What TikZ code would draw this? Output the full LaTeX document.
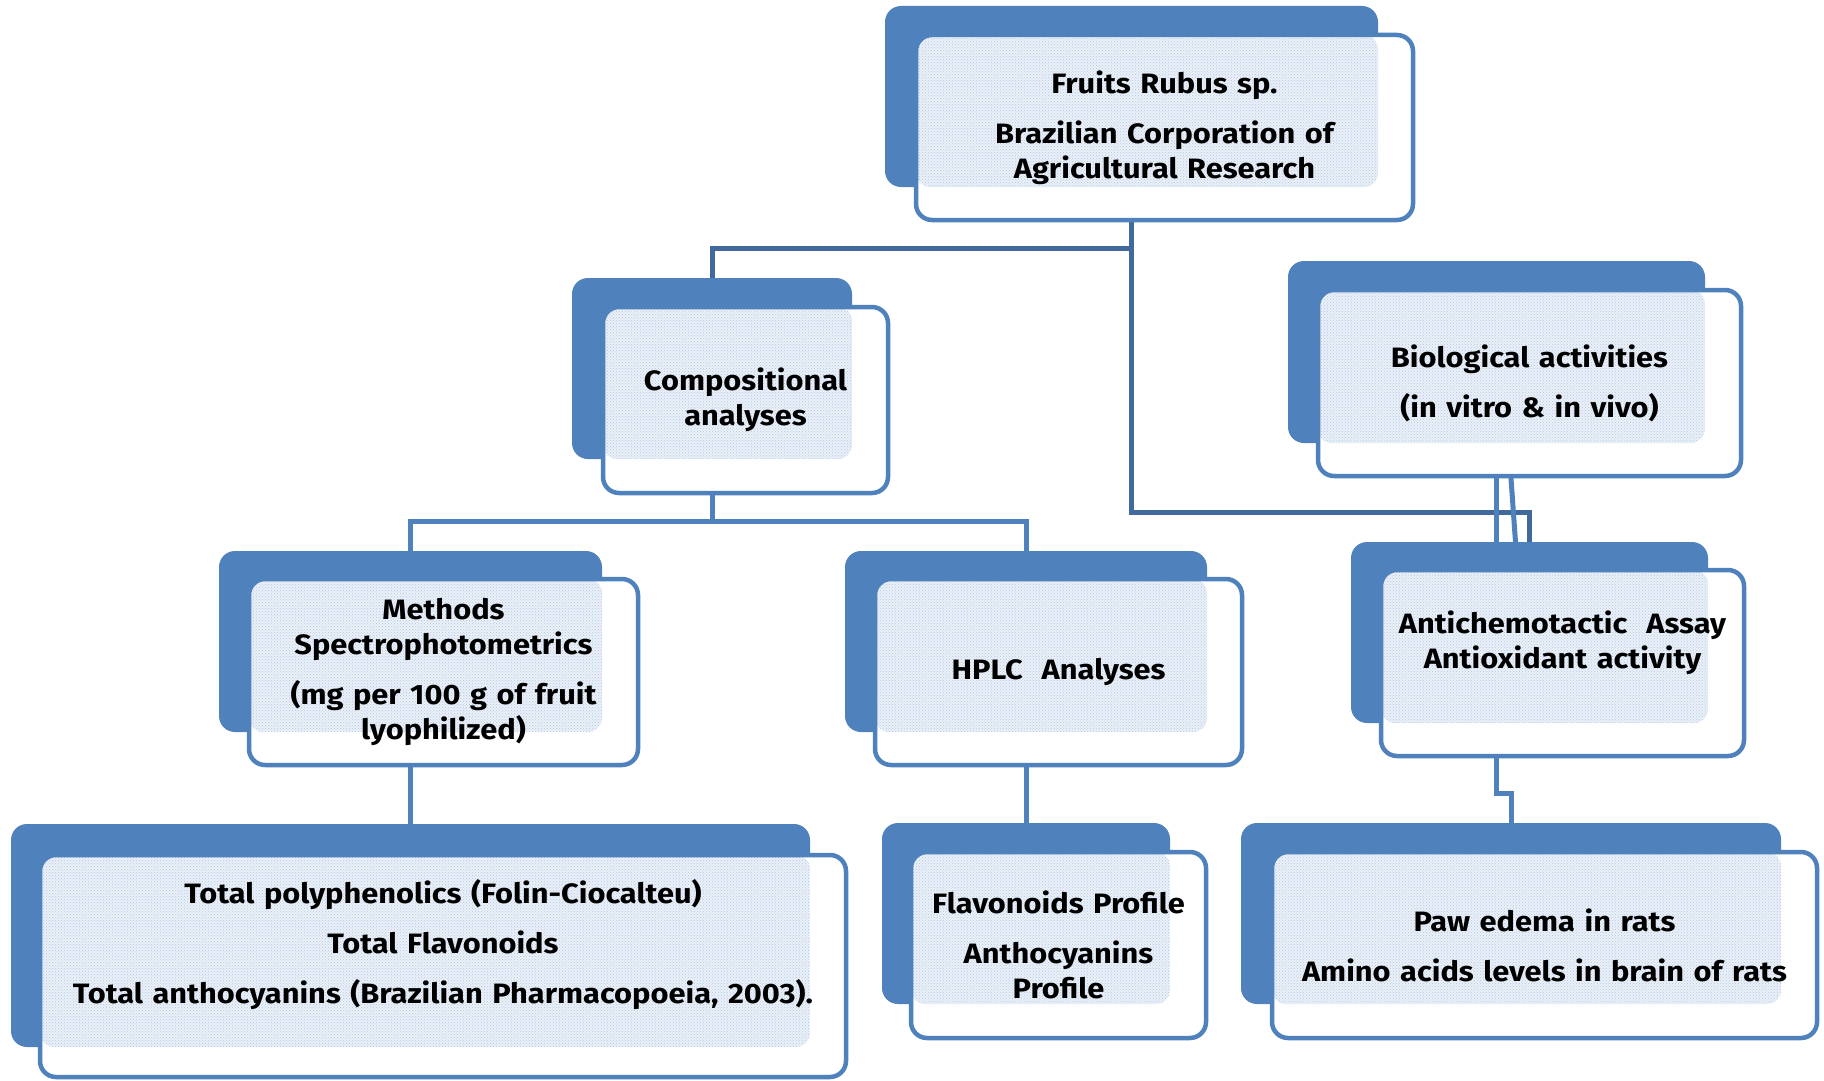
\documentclass[tikz,border=0pt]{standalone}
\usepackage{fontspec}
\setmainfont{Fira Sans}[FakeStretch=1.1, WordSpace=1.3]
\usetikzlibrary{patterns}
\definecolor{boxblue}{HTML}{4F81BD}
\definecolor{linedark}{HTML}{41699B}
\definecolor{dotbg}{HTML}{EAF0F8}
\definecolor{dotfg}{HTML}{B4C8E2}

\begin{document}
\begin{tikzpicture}[
    x=1pt, y=-1pt,
    bk/.style = {rectangle, rounded corners=16pt, fill=boxblue, inner sep=0pt, outer sep=0pt},
    fr/.style = {rectangle, rounded corners=16pt, draw=boxblue, line width=4.5pt, fill=white,
      inner sep=0pt, outer sep=0pt, align=center,
      path picture={
        \fill[dotbg, rounded corners=14pt] (path picture bounding box.north west) rectangle (#1.south east);
        \fill[pattern=crosshatch dots, pattern color=dotfg, rounded corners=14pt]
          (path picture bounding box.north west) rectangle (#1.south east);}},
    conn/.style = {draw=#1, line width=5pt},
    conn/.default = boxblue,
    font=\fontsize{28pt}{35pt}\selectfont\bfseries
    ]
  \useasboundingbox (0,0) rectangle (1824,1081);

  % back plates
  \node[bk, minimum width=493, minimum height=181] (fruitsbk) at (1131.5,96.5) {};
  \node[bk, minimum width=280, minimum height=181] (compbk) at (712,368.5) {};
  \node[bk, minimum width=417, minimum height=182] (biobk) at (1496.5,352) {};
  \node[bk, minimum width=383, minimum height=181] (methbk) at (410.5,641.5) {};
  \node[bk, minimum width=362, minimum height=181] (hplcbk) at (1026,641.5) {};
  \node[bk, minimum width=357, minimum height=181] (antibk) at (1529.5,632.5) {};
  \node[bk, minimum width=799, minimum height=223] (totalbk) at (410.5,935.5) {};
  \node[bk, minimum width=288, minimum height=181] (flavbk) at (1026,913.5) {};
  \node[bk, minimum width=540, minimum height=181] (pawbk) at (1511,913.5) {};

  % connectors
  \draw[conn=linedark] (fruitsbk.south) -- ++(0,61) -| (compbk.north);
  \draw[conn=linedark] (fruitsbk.south) -- ++(0,325) -| (antibk.north);
  \draw[conn] (compbk.south) -- ++(0,62) -| (methbk.north);
  \draw[conn] (compbk.south) ++(0,62) -| (hplcbk.north);
  \draw[conn] (biobk.south) -- (biobk.south |- antibk.north);
  \draw[conn] ([xshift=12pt]biobk.south) -- ([xshift=19pt]biobk.south |- antibk.north);
  \draw[conn] (methbk.south) -- (totalbk.north);
  \draw[conn] (hplcbk.south) -- (flavbk.north);
  \draw[conn] (biobk.south |- antibk.south) -- ++(0,70) -| (pawbk.north);

  % front cards
  \node[fr=fruitsbk, minimum width=497, minimum height=185] (fruits) at (1164.5,127.5)
    {Fruits Rubus sp.\\[15pt] Brazilian Corporation of\\ Agricultural Research};
  \node[fr=compbk, minimum width=285, minimum height=186] (comp) at (745.5,400)
    {Compositional\\ analyses};
  \node[fr=biobk, minimum width=423, minimum height=186] (bio) at (1529.5,383)
    {Biological activities\\[15pt] (in vitro \& in vivo)};
  \node[fr=methbk, minimum width=389, minimum height=186] (meth) at (443.5,672)
    {Methods\\ Spectrophotometrics\\[15pt] (mg per 100 g of fruit\\ lyophilized)};
  \node[fr=hplcbk, minimum width=367, minimum height=186] (hplc) at (1058.5,672)
    {HPLC~~Analyses};
  \node[fr=antibk, minimum width=363, minimum height=186] (anti) at (1562.5,663)
    {Antichemotactic~~Assay\\ Antioxidant activity\\[12pt] ~};
  \node[fr=totalbk, minimum width=806, minimum height=222] (total) at (443,966)
    {Total polyphenolics (Folin-Ciocalteu)\\[15pt] Total Flavonoids\\[15pt]
     Total anthocyanins (Brazilian Pharmacopoeia, 2003).\\[15pt] ~};
  \node[fr=flavbk, minimum width=295, minimum height=186] (flav) at (1058.5,945)
    {Flavonoids Profile\\[15pt] Anthocyanins\\ Profile};
  \node[fr=pawbk, minimum width=545, minimum height=186] (paw) at (1544.5,945)
    {Paw edema in rats\\[15pt] Amino acids levels in brain of rats};

\end{tikzpicture}
\end{document}
